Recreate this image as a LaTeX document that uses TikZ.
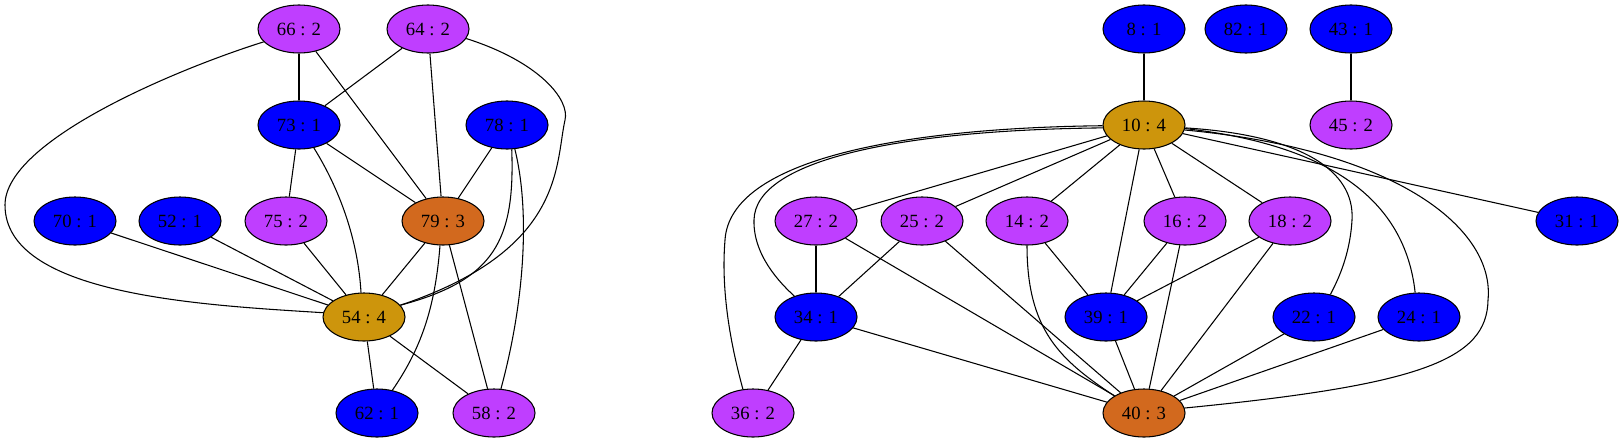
\documentclass[tikz,border=0pt]{standalone}
\usepackage{fontspec}
\setmainfont{Liberation Serif}
\usetikzlibrary{shapes.geometric}
\definecolor{cpurple}{HTML}{BF3EFF}
\definecolor{cblue}{HTML}{0000FF}
\definecolor{cgold}{HTML}{CD950C}
\definecolor{corange}{HTML}{D2691E}
\begin{document}
\begin{tikzpicture}[x=0.75pt,y=-0.75pt,
  nd/.style={ellipse,draw=black,line width=0.8pt,minimum width=61.5pt,minimum height=36pt,inner sep=0pt,font=\fontsize{14}{16}\selectfont},
  pu/.style={nd,fill=cpurple},
  bl/.style={nd,fill=cblue},
  go/.style={nd,fill=cgold},
  orn/.style={nd,fill=corange},
  ed/.style={draw=black,line width=0.8pt}]
\useasboundingbox (0,0) rectangle (1623,443);
% left component
\node[pu] (n66) at (299,29) {66 : 2};
\node[pu] (n64) at (428,29) {64 : 2};
\node[bl] (n73) at (299,125) {73 : 1};
\node[bl] (n78) at (507,125) {78 : 1};
\node[bl] (n70) at (75,221) {70 : 1};
\node[bl] (n52) at (180,221) {52 : 1};
\node[pu] (n75) at (286,221) {75 : 2};
\node[orn] (n79) at (443,221) {79 : 3};
\node[go] (n54) at (364,317) {54 : 4};
\node[bl] (n62) at (377,413) {62 : 1};
\node[pu] (n58) at (494,413) {58 : 2};
% right component
\node[bl] (n8) at (1144,29) {8 : 1};
\node[bl] (n82) at (1246,29) {82 : 1};
\node[bl] (n43) at (1351,29) {43 : 1};
\node[go] (n10) at (1144,125) {10 : 4};
\node[pu] (n45) at (1351,125) {45 : 2};
\node[pu] (n27) at (816,221) {27 : 2};
\node[pu] (n25) at (922,221) {25 : 2};
\node[pu] (n14) at (1027,221) {14 : 2};
\node[pu] (n16) at (1185,221) {16 : 2};
\node[pu] (n18) at (1290,221) {18 : 2};
\node[bl] (n31) at (1577,221) {31 : 1};
\node[bl] (n34) at (816,317) {34 : 1};
\node[bl] (n39) at (1106,317) {39 : 1};
\node[bl] (n22) at (1314,317) {22 : 1};
\node[bl] (n24) at (1419,317) {24 : 1};
\node[pu] (n36) at (753,413) {36 : 2};
\node[orn] (n40) at (1144,413) {40 : 3};
% left edges
\begin{scope}[ed]
\draw (n66) -- (n73);
\draw (n66) -- (n79);
\draw (n66.200) .. controls (180,68) and (5,140) .. (5,205) .. controls (5,295) and (200,305) .. (n54.174);
\draw (n64) -- (n73);
\draw (n64) -- (n79);
\draw (n64.346) .. controls (540,62) and (570,100) .. (565,120) .. controls (555,165) and (565,250) .. (n54.18);
\draw (n73) -- (n75);
\draw (n73) -- (n79);
\draw (n73.303) .. controls (340,190) and (358,240) .. (n54.97);
\draw (n78) -- (n79);
\draw (n78.281) .. controls (515,240) and (495,280) .. (n54.18);
\draw (n78.288) .. controls (530,210) and (525,300) .. (n58.74);
\draw (n70) -- (n54);
\draw (n52) -- (n54);
\draw (n75) -- (n54);
\draw (n79) -- (n54);
\draw (n79.263) .. controls (435,310) and (420,350) .. (n62.56);
\draw (n79) -- (n58);
\draw (n54) -- (n62);
\draw (n54) -- (n58);
% right edges
\draw (n8) -- (n10);
\draw (n43) -- (n45);
\draw (n10) -- (n27);
\draw (n10) -- (n25);
\draw (n10) -- (n14);
\draw (n10) -- (n16);
\draw (n10) -- (n18);
\draw (n10) -- (n39);
\draw (n10) -- (n31);
\draw (n10.184) .. controls (900,130) and (755,160) .. (754,220) .. controls (753,255) and (780,283) .. (n34.136);
\draw (n10.181) .. controls (900,128) and (730,160) .. (725,240) .. controls (720,300) and (735,360) .. (n36.113);
\draw (n10.356) .. controls (1300,135) and (1355,170) .. (1352,220) .. controls (1350,255) and (1338,280) .. (n22.54);
\draw (n10.355) .. controls (1330,145) and (1405,200) .. (n24.99);
\draw (n10.353) .. controls (1400,150) and (1495,230) .. (1488,300) .. controls (1487,360) and (1420,385) .. (n40.7);
\draw (n27) -- (n34);
\draw (n27) -- (n40);
\draw (n25) -- (n34);
\draw (n25) -- (n40);
\draw (n14) -- (n39);
\draw (n14.270) .. controls (1027,330) and (1060,360) .. (n40.150);
\draw (n16) -- (n39);
\draw (n16) -- (n40);
\draw (n18) -- (n39);
\draw (n18) -- (n40);
\draw (n34) -- (n36);
\draw (n34) -- (n40);
\draw (n39) -- (n40);
\draw (n22) -- (n40);
\draw (n24) -- (n40);
\end{scope}
\end{tikzpicture}
\end{document}
